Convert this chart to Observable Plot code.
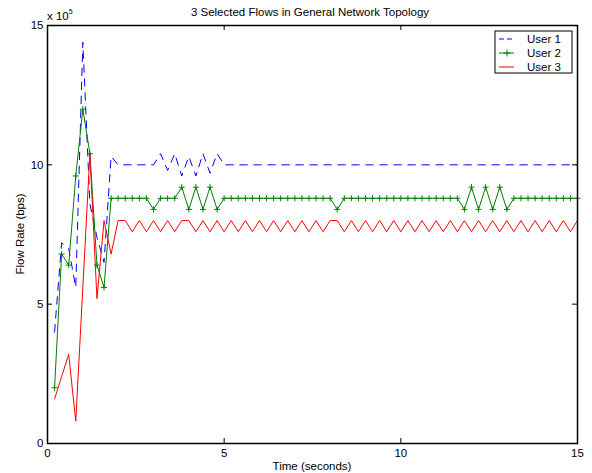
<!DOCTYPE html>
<html><head><meta charset="utf-8">
<script src="https://cdn.jsdelivr.net/npm/d3@7"></script>
<script src="https://cdn.jsdelivr.net/npm/@observablehq/plot@0.6"></script>
<style>
body{margin:0;background:#fff}
svg{font-family:"Liberation Sans",Arial,Helvetica,sans-serif}
</style>
</head><body><div id="chart"></div>
<script>
// Time samples (seconds)
const times = [0.2,0.4,0.6,0.8,1.0,1.2,1.4,1.6,1.8,2.0,2.2,2.4,2.6,2.8,3.0,3.2,3.4,3.6,3.8,4.0,
  4.2,4.4,4.6,4.8,5.0,5.2,5.4,5.6,5.8,6.0,6.2,6.4,6.6,6.8,7.0,7.2,7.4,7.6,7.8,8.0,
  8.2,8.4,8.6,8.8,9.0,9.2,9.4,9.6,9.8,10.0,10.2,10.4,10.6,10.8,11.0,11.2,11.4,11.6,11.8,12.0,
  12.2,12.4,12.6,12.8,13.0,13.2,13.4,13.6,13.8,14.0,14.2,14.4,14.6,14.8,15.0];
// Flow rates in units of 1e5 bps
const user1 = [4.0,7.2,7.0,5.6,14.4,8.6,7.4,6.5,10.3,10.0,10.0,10.0,10.0,10.0,10.0,10.4,9.8,10.4,9.6,10.3,
  9.6,10.4,9.7,10.4,10.0,10.0,10.0,10.0,10.0,10.0,10.0,10.0,10.0,10.0,10.0,10.0,10.0,10.0,10.0,10.0,
  10.0,10.0,10.0,10.0,10.0,10.0,10.0,10.0,10.0,10.0,10.0,10.0,10.0,10.0,10.0,10.0,10.0,10.0,10.0,10.0,
  10.0,10.0,10.0,10.0,10.0,10.0,10.0,10.0,10.0,10.0,10.0,10.0,10.0,10.0,10.0];
const user2 = [2.0,6.8,6.4,9.6,12.0,10.4,6.4,5.6,8.8,8.8,8.8,8.8,8.8,8.8,8.4,8.8,8.8,8.8,9.2,8.4,
  9.2,8.4,9.2,8.4,8.8,8.8,8.8,8.8,8.8,8.8,8.8,8.8,8.8,8.8,8.8,8.8,8.8,8.8,8.8,8.8,
  8.4,8.8,8.8,8.8,8.8,8.8,8.8,8.8,8.8,8.8,8.8,8.8,8.8,8.8,8.8,8.8,8.8,8.8,8.4,9.2,
  8.4,9.2,8.4,9.2,8.4,8.8,8.8,8.8,8.8,8.8,8.8,8.8,8.8,8.8,8.8];
const user3 = [1.6,2.4,3.2,0.8,5.6,10.4,5.2,8.0,6.8,8.0,8.0,7.6,8.0,7.6,8.0,7.6,8.0,7.6,8.0,8.0,
  7.6,8.0,7.6,8.0,7.6,8.0,7.6,8.0,7.6,8.0,7.6,8.0,7.6,8.0,7.6,8.0,7.6,8.0,7.6,8.0,
  8.0,7.6,8.0,7.6,8.0,7.6,8.0,7.6,8.0,7.6,8.0,7.6,8.0,7.6,8.0,7.6,8.0,7.6,8.0,7.6,
  8.0,7.6,8.0,7.6,8.0,7.6,8.0,7.6,8.0,7.6,8.0,7.6,8.0,7.6,8.0];
const seriesNames = ["User 1","User 2","User 3"];
const tickValues = [0,5,10,15];

const d1 = times.map((t,i)=>({t, v:user1[i]}));
const d2 = times.map((t,i)=>({t, v:user2[i]}));
const d3v = times.map((t,i)=>({t, v:user3[i]}));

const blue = "#0000ff", green = "#008000", red = "#ff0000";
const plusSym = {draw(ctx, size){ const r = Math.sqrt(size/Math.PI);
  ctx.moveTo(-r,0); ctx.lineTo(r,0); ctx.moveTo(0,-r); ctx.lineTo(0,r);} };

const W = 592, H = 473, mL = 47, mR = 15, mT = 25, mB = 30;
const tickLenX = 5 * 15 / (W - mL - mR); // 5px in data units
const tickLenY = 5 * 15 / (H - mT - mB);
const FS = "11.5px";

const chart = Plot.plot({
  width: W, height: H,
  marginLeft: mL, marginRight: mR, marginTop: mT, marginBottom: mB,
  style: {fontSize: FS, fontFamily: "'Liberation Sans', Arial, Helvetica, sans-serif", color: "#000", background: "#fff"},
  x: {domain: [0,15]},
  y: {domain: [0,15]},
  marks: [
    Plot.line(d1, {x:"t", y:"v", stroke: blue, strokeWidth: 1, strokeDasharray: "7.5,6.5"}),
    Plot.line(d2, {x:"t", y:"v", stroke: green, strokeWidth: 1}),
    Plot.dot(d2, {x:"t", y:"v", symbol: plusSym, r: 3, stroke: green, fill: "none", strokeWidth: 1}),
    Plot.line(d3v, {x:"t", y:"v", stroke: red, strokeWidth: 1}),
    // inward ticks on all four sides
    Plot.ruleX(tickValues, {y1: 0, y2: tickLenY, stroke: "#000"}),
    Plot.ruleX(tickValues, {y1: 15, y2: 15 - tickLenY, stroke: "#000"}),
    Plot.ruleY(tickValues, {x1: 0, x2: tickLenX, stroke: "#000"}),
    Plot.ruleY(tickValues, {x1: 15, x2: 15 - tickLenX, stroke: "#000"}),
    Plot.frame({stroke: "#000", strokeWidth: 1.5}),
    Plot.axisX({ticks: tickValues, tickSize: 0, tickPadding: 5, label: null, anchor: "bottom"}),
    Plot.axisY({ticks: tickValues, tickSize: 0, tickPadding: 4, label: null, anchor: "left"})
  ]
});
document.getElementById("chart").appendChild(chart);

const svg = d3.select(chart);
const font = "'Liberation Sans', Arial, Helvetica, sans-serif";
svg.append("text").attr("x", 310).attr("y", 16).attr("text-anchor","middle")
  .style("font-size",FS).style("font-family",font).text("3 Selected Flows in General Network Topology");
const exp = svg.append("text").attr("x", 47).attr("y", 20).attr("text-anchor","start")
  .style("font-size",FS).style("font-family",font);
exp.append("tspan").text("x 10");
exp.append("tspan").attr("dy", -6).style("font-size","7px").text("5");
svg.append("text").attr("x", 312).attr("y", 470).attr("text-anchor","middle")
  .style("font-size",FS).style("font-family",font).text("Time (seconds)");
svg.append("text").attr("transform","translate(24,234) rotate(-90)").attr("text-anchor","middle")
  .style("font-size",FS).style("font-family",font).text("Flow Rate (bps)");

// legend
const lg = svg.append("g");
lg.append("rect").attr("x",495).attr("y",31).attr("width",77).attr("height",42)
  .attr("fill","#fff").attr("stroke","#000").attr("stroke-width",1);
const rows = [39, 53, 67];
lg.append("line").attr("x1",499).attr("x2",514).attr("y1",rows[0]).attr("y2",rows[0])
  .attr("stroke",blue).attr("stroke-dasharray","5,3");
lg.append("line").attr("x1",499).attr("x2",514).attr("y1",rows[1]).attr("y2",rows[1]).attr("stroke",green);
lg.append("path").attr("d",`M503.5,${rows[1]}h7M507,${rows[1]-3.5}v7`).attr("stroke",green);
lg.append("line").attr("x1",499).attr("x2",514).attr("y1",rows[2]).attr("y2",rows[2]).attr("stroke",red);
seriesNames.forEach((n,i)=>{
  lg.append("text").attr("x",527).attr("y",rows[i]+4).attr("text-anchor","start")
    .style("font-size",FS).style("font-family",font).text(n);
});
</script>
</body></html>
